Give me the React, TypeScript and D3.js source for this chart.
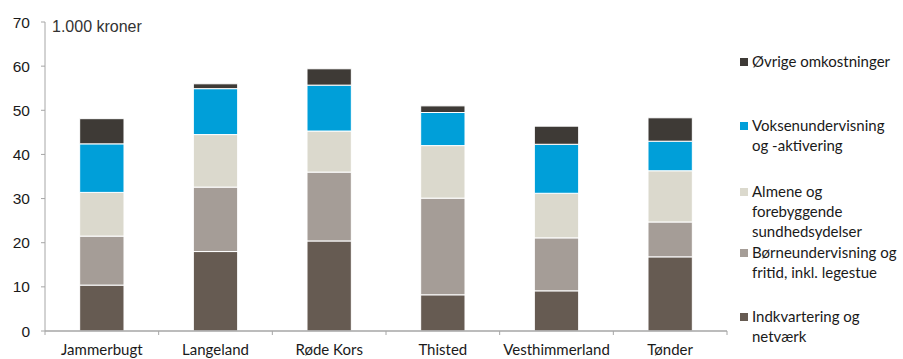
import React from "react";
import * as d3 from "d3";

const categories = ["Jammerbugt", "Langeland", "Røde Kors", "Thisted", "Vesthimmerland", "Tønder"];
const seriesNames = [
  "Indkvartering og netværk",
  "Børneundervisning og fritid, inkl. legestue",
  "Almene og forebyggende sundhedsydelser",
  "Voksenundervisning og -aktivering",
  "Øvrige omkostninger",
];
const indkvartering = [10.4, 18.0, 20.4, 8.2, 9.1, 16.8];
const boerneundervisning = [11.1, 14.6, 15.6, 21.9, 12.0, 7.9];
const almene = [9.9, 11.9, 9.3, 11.9, 10.1, 11.6];
const voksenundervisning = [11.0, 10.4, 10.4, 7.5, 11.1, 6.7];
const oevrige = [5.7, 1.1, 3.7, 1.5, 4.1, 5.3];
const yTicks = [0, 10, 20, 30, 40, 50, 60, 70];
const colors = ["#665b52", "#a59d97", "#dbd9cd", "#009fd9", "#3e3a36"];
const legendLines = [
  ["Øvrige omkostninger"],
  ["Voksenundervisning", "og -aktivering"],
  ["Almene og", "forebyggende", "sundhedsydelser"],
  ["Børneundervisning og", "fritid, inkl. legestue"],
  ["Indkvartering og", "netværk"],
];
const legendSeriesIndex = [4, 3, 2, 1, 0];

const W = 903;
const H = 359;
const left = 45;
const right = 727;
const top = 22;
const bottom = 331;
const font = "Lato, 'Open Sans', sans-serif";
const numFont = "'Liberation Sans', Arial, sans-serif";

export default function App() {
  const series = [indkvartering, boerneundervisning, almene, voksenundervisning, oevrige];
  const rows = categories.map((c, i) => {
    const r: Record<string, any> = { cat: c };
    seriesNames.forEach((s, k) => (r[s] = series[k][i]));
    return r;
  });
  const stack = d3.stack<any>().keys(seriesNames)(rows);
  const x = d3.scaleBand().domain(categories).range([left, right]).paddingInner(0.61).paddingOuter(0.305);
  const xOuter = d3.scaleBand().domain(categories).range([left, right]);
  const y = d3.scaleLinear().domain([0, 70]).range([bottom, top]);
  const axisColor = "#a6a6a6";

  return (
    <svg width={W} height={H} style={{ position: "absolute", left: 0, top: 0 }}>
      <rect width={W} height={H} fill="#fff" />
      {stack.map((layer, k) =>
        layer.map((d, i) => (
          <rect
            key={`${k}-${i}`}
            x={x(categories[i])}
            width={x.bandwidth()}
            y={y(d[1])}
            height={y(d[0]) - y(d[1])}
            fill={colors[k]}
            stroke="#fff"
            strokeWidth={1}
          />
        ))
      )}
      {/* y axis */}
      <line x1={left} x2={left} y1={top} y2={bottom} stroke={axisColor} strokeWidth={1} />
      {yTicks.map((t) => (
        <g key={t}>
          <line x1={left - 4} x2={left} y1={y(t)} y2={y(t)} stroke={axisColor} />
          <text x={30} y={y(t) + 5.5} textAnchor="end" fontFamily={numFont} fontSize={15.5} fill="#1a1a1a">
            {t}
          </text>
        </g>
      ))}
      {/* x axis */}
      <line x1={left} x2={right} y1={bottom} y2={bottom} stroke={axisColor} strokeWidth={1.5} />
      {categories.map((c) => (
        <line key={c} x1={xOuter(c)} x2={xOuter(c)} y1={bottom} y2={bottom + 4} stroke={axisColor} />
      ))}
      <line x1={right} x2={right} y1={bottom} y2={bottom + 4} stroke={axisColor} />
      {categories.map((c) => (
        <text key={c} x={x(c)! + x.bandwidth() / 2} y={355} textAnchor="middle" fontFamily={font} fontSize={15} fill="#1a1a1a">
          {c}
        </text>
      ))}
      <text x={52} y={32} fontFamily={numFont} fontSize={16} fill="#333">
        1.000 kroner
      </text>
      {/* legend */}
      {legendLines.map((lines, j) => {
        const firstY = [62, 126, 192, 253, 317][j];
        return (
          <g key={j}>
            <rect x={740} y={firstY - 4} width={8} height={8} fill={colors[legendSeriesIndex[j]]} />
            {lines.map((ln, li) => (
              <text key={li} x={752} y={firstY + 5 + li * 20} fontFamily={font} fontSize={15} fill="#1a1a1a">
                {ln}
              </text>
            ))}
          </g>
        );
      })}
    </svg>
  );
}
